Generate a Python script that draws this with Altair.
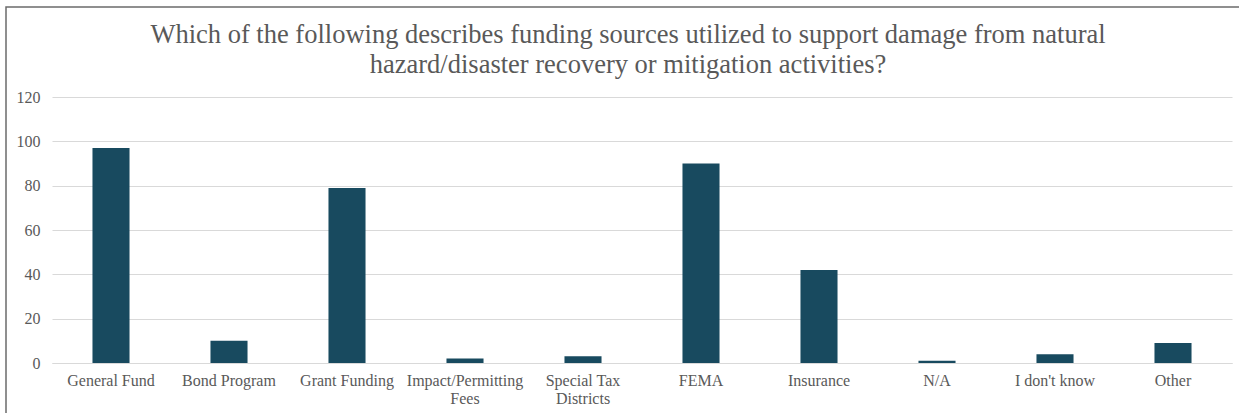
import altair as alt
import pandas as pd

categories = ["General Fund", "Bond Program", "Grant Funding", "Impact/Permitting Fees",
              "Special Tax Districts", "FEMA", "Insurance", "N/A", "I don't know", "Other"]
values = [97, 10, 79, 2, 3, 90, 42, 1, 4, 9]
y_ticks = [0, 20, 40, 60, 80, 100, 120]
title_lines = ["Which of the following describes funding sources utilized to support damage from natural",
               "hazard/disaster recovery or mitigation activities?"]

df = pd.DataFrame({"category": categories, "count": values})

FONT = "Liberation Serif"
GRAY = "#595959"

label_expr = ("datum.value == 'Impact/Permitting Fees' ? ['Impact/Permitting', 'Fees'] : "
              "datum.value == 'Special Tax Districts' ? ['Special Tax', 'Districts'] : datum.value")

bars = alt.Chart(df).mark_bar(color="#184A5F").encode(
    x=alt.X("category:N", sort=None, title=None,
            scale=alt.Scale(paddingInner=0.686, paddingOuter=0.343),
            axis=alt.Axis(labelAngle=0, labelExpr=label_expr, labelFont=FONT, labelFontSize=16,
                          labelColor=GRAY, ticks=False, domainColor="#d9d9d9", labelPadding=9,
                          labelBaseline="top", labelLineHeight=18)),
    y=alt.Y("count:Q", title=None,
            scale=alt.Scale(domain=[0, 120]),
            axis=alt.Axis(values=y_ticks, labelFont=FONT, labelFontSize=16, labelColor=GRAY,
                          ticks=False, domain=False, gridColor="#d9d9d9", labelPadding=12)),
)

frame = alt.Chart(pd.DataFrame({"a": [0]})).mark_rect(
    fill=None, stroke="#6b6b6b", strokeWidth=1.5
).encode(x=alt.value(-46), x2=alt.value(1200), y=alt.value(-90), y2=alt.value(330))

title = alt.Chart(pd.DataFrame({"a": [0]})).mark_text(
    font=FONT, fontSize=26.5, color=GRAY, align="center", baseline="alphabetic", lineHeight=30
).encode(x=alt.value(576), y=alt.value(-54), text=alt.value(title_lines))

chart = alt.layer(bars, frame, title).properties(
    width=1180, height=266,
    autosize=alt.AutoSizeParams(type="none"),
    padding={"left": 52, "top": 97, "right": 7, "bottom": 50},
).configure(background="white", view=alt.ViewConfig(stroke=None))

chart.save("out.html", embed_options={"renderer": "svg", "actions": False})
